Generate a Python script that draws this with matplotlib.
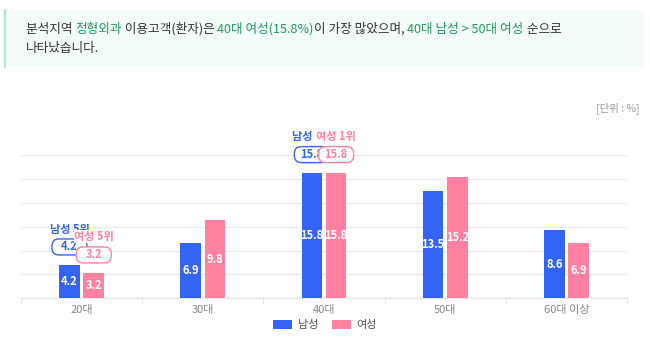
import matplotlib
matplotlib.use("Agg")
import matplotlib.pyplot as plt
import matplotlib.transforms as mtransforms
from matplotlib.patches import FancyBboxPatch, Rectangle, Patch
import numpy as np

plt.rcParams['font.family'] = ['Noto Sans CJK KR', 'DejaVu Sans']

# data
categories = ['20대', '30대', '40대', '50대', '60대 이상']
male = [4.2, 6.9, 15.8, 13.5, 8.6]
female = [3.2, 9.8, 15.8, 15.2, 6.9]
male_rank = [5, 0, 1, 0, 0]     # 0 = no rank label
female_rank = [5, 0, 1, 0, 0]

BLUE = '#3464F5'
PINK = '#FF819F'
GREEN = '#22995F'
DARK = '#333333'

W, H = 650, 346
fig = plt.figure(figsize=(6.5, 3.46), dpi=100)
renderer = fig.canvas.get_renderer()

# header box
fig.patches.append(Rectangle((4 / W, 1 - 67 / H), 640 / W, 57 / H,
                             transform=fig.transFigure, facecolor='#F3FCF8',
                             edgecolor='none', zorder=0))
fig.lines.append(plt.Line2D([4.5 / W, 4.5 / W], [1 - 67 / H, 1 - 10 / H],
                            transform=fig.transFigure, color='#A6EBD0', lw=1.5))

line1 = [('분석지역 ', DARK), ('정형외과', GREEN), (' 이용고객(환자)은 ', DARK),
         ('40대 여성(15.8%)', GREEN), ('이 가장 많았으며, ', DARK),
         ('40대 남성 > 50대 여성', GREEN), (' 순으로', DARK)]
xpos = 26
for s, c in line1:
    t = fig.text(xpos / W, 1 - 33 / H, s, color=c, fontsize=9.1, va='baseline')
    xpos = t.get_window_extent(renderer).x1
fig.text(26 / W, 1 - 52 / H, '나타났습니다.', color=DARK, fontsize=9.1, va='baseline')

# axes
ax = fig.add_axes([21 / W, 1 - 298.3 / H, 606 / W, 143.3 / H])
x = np.arange(len(categories))
off, bw = 0.1, 0.17
ax.bar(x - off, male, bw, color=BLUE, zorder=3)
ax.bar(x + off, female, bw, color=PINK, zorder=3)
ax.set_xlim(-0.5, len(categories) - 0.5)
ax.set_ylim(0, 18)
ax.set_yticks(np.arange(0, 19, 3))
ax.yaxis.grid(True, color='#E6EAF2', lw=1, zorder=0)
ax.tick_params(axis='y', left=False, labelleft=False)
ax.set_xticks(x)
ax.set_xticklabels(categories, color='#888888', fontsize=8)
ax.tick_params(axis='x', length=0, pad=5)
ax.set_xticks(np.arange(-0.5, len(categories), 1), minor=True)
ax.tick_params(axis='x', which='minor', length=4, color='#E0E4EC')
for s in ['top', 'right', 'left']:
    ax.spines[s].set_visible(False)
ax.spines['bottom'].set_color('#E0E4EC')

for xi, m, f in zip(x, male, female):
    ax.text(xi - off, m / 2, f'{m}', color='white', ha='center', va='center',
            fontsize=8, fontweight='bold', zorder=4)
    ax.text(xi + off, f / 2, f'{f}', color='white', ha='center', va='center',
            fontsize=8, fontweight='bold', zorder=4)


def rank_box(xc, v, rank, who, color, z):
    tr = fig.dpi_scale_trans + mtransforms.ScaledTranslation(xc, v + 2.25, ax.transData)
    box = FancyBboxPatch((-0.175, -0.08), 0.35, 0.16, boxstyle='round,pad=0,rounding_size=0.07',
                         transform=tr, facecolor='white', edgecolor=color, lw=1,
                         zorder=z, clip_on=False)
    ax.add_patch(box)
    ax.text(xc, v + 2.25, f'{v}', color=color, ha='center', va='center',
            fontsize=8, fontweight='bold', zorder=z + 1, clip_on=False)
    ax.text(xc, v + 4.5, f'{who} {rank}위', color=color, ha='center', va='center',
            fontsize=8, fontweight='bold', zorder=z + 2, clip_on=False,
            bbox=dict(facecolor='white', edgecolor='none', pad=0))


for i in range(len(categories)):
    if male_rank[i]:
        rank_box(x[i] - off, male[i], male_rank[i], '남성', BLUE, 5)
    if female_rank[i]:
        rank_box(x[i] + off, female[i], female_rank[i], '여성', PINK, 8)

fig.text(640 / W, 1 - 108 / H, '[단위 : %]', color='#999999', fontsize=7.5, ha='right', va='center')

handles = [Patch(facecolor=BLUE, label='남성'), Patch(facecolor=PINK, label='여성')]
leg = fig.legend(handles=handles, loc='center', bbox_to_anchor=(0.5, 1 - 325 / H), ncol=2,
                 frameon=False, fontsize=8, handlelength=1.7, handleheight=0.9,
                 columnspacing=1.2, handletextpad=0.5)
for txt in leg.get_texts():
    txt.set_color('#555555')

fig.savefig('out.png', dpi=100)
